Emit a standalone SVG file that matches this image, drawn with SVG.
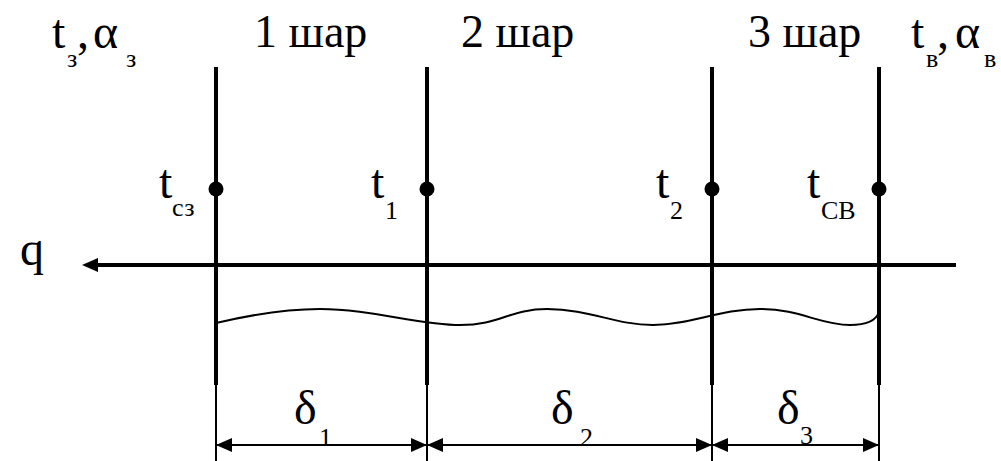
<svg xmlns="http://www.w3.org/2000/svg" width="1001" height="461" viewBox="0 0 1001 461">
<rect width="1001" height="461" fill="#fff"/>
<g id="labels-top" fill="#000">
<text x="52" y="48" font-family="Liberation Serif" style="font-family:'Liberation Serif',serif" font-size="48">t</text>
<text x="67" y="67" font-family="Liberation Serif" style="font-family:'Liberation Serif',serif" font-size="26">з</text>
<text x="77" y="48" font-family="Liberation Serif" style="font-family:'Liberation Serif',serif" font-size="48">,</text>
<text x="93" y="48" font-family="Liberation Serif" style="font-family:'Liberation Serif',serif" font-size="48">α</text>
<text x="126" y="67" font-family="Liberation Serif" style="font-family:'Liberation Serif',serif" font-size="26">з</text>
<text x="254" y="47" font-family="Liberation Serif" style="font-family:'Liberation Serif',serif" font-size="46">1 шар</text>
<text x="461" y="47" font-family="Liberation Serif" style="font-family:'Liberation Serif',serif" font-size="46">2 шар</text>
<text x="748" y="47" font-family="Liberation Serif" style="font-family:'Liberation Serif',serif" font-size="46">3 шар</text>
<text x="911" y="48" font-family="Liberation Serif" style="font-family:'Liberation Serif',serif" font-size="48">t</text>
<text x="926" y="67" font-family="Liberation Serif" style="font-family:'Liberation Serif',serif" font-size="26">в</text>
<text x="937" y="48" font-family="Liberation Serif" style="font-family:'Liberation Serif',serif" font-size="48">,</text>
<text x="955" y="48" font-family="Liberation Serif" style="font-family:'Liberation Serif',serif" font-size="48">α</text>
<text x="984" y="67" font-family="Liberation Serif" style="font-family:'Liberation Serif',serif" font-size="26">в</text>
</g>
<g id="wall0"><line x1="216" y1="67" x2="216" y2="385" stroke="#000" stroke-width="4"/><line x1="216" y1="385" x2="216" y2="461" stroke="#000" stroke-width="2"/><circle cx="216" cy="189" r="7.5"/>
<text x="159" y="198" font-family="Liberation Serif" style="font-family:'Liberation Serif',serif" font-size="48">t</text>
<text x="172" y="216" font-family="Liberation Serif" style="font-family:'Liberation Serif',serif" font-size="26">сз</text></g>
<g id="wall1"><line x1="427" y1="67" x2="427" y2="385" stroke="#000" stroke-width="4"/><line x1="427" y1="385" x2="427" y2="461" stroke="#000" stroke-width="2"/><circle cx="427" cy="189" r="7.5"/>
<text x="371" y="198" font-family="Liberation Serif" style="font-family:'Liberation Serif',serif" font-size="48">t</text>
<text x="385" y="219" font-family="Liberation Serif" style="font-family:'Liberation Serif',serif" font-size="26">1</text></g>
<g id="wall2"><line x1="712" y1="67" x2="712" y2="385" stroke="#000" stroke-width="4"/><line x1="712" y1="385" x2="712" y2="461" stroke="#000" stroke-width="2"/><circle cx="712" cy="189" r="7.5"/>
<text x="656" y="198" font-family="Liberation Serif" style="font-family:'Liberation Serif',serif" font-size="48">t</text>
<text x="670" y="219" font-family="Liberation Serif" style="font-family:'Liberation Serif',serif" font-size="26">2</text></g>
<g id="wall3"><line x1="879" y1="67" x2="879" y2="385" stroke="#000" stroke-width="4"/><line x1="879" y1="385" x2="879" y2="461" stroke="#000" stroke-width="2"/><circle cx="879" cy="189" r="7.5"/>
<text x="807" y="198" font-family="Liberation Serif" style="font-family:'Liberation Serif',serif" font-size="48">t</text>
<text x="821" y="219" font-family="Liberation Serif" style="font-family:'Liberation Serif',serif" font-size="26">СВ</text></g>
<g id="heat-flow">
<text x="20" y="265" font-family="Liberation Serif" style="font-family:'Liberation Serif',serif" font-size="48">q</text>
<line x1="95" y1="265" x2="956" y2="265" stroke="#000" stroke-width="4"/>
<polygon points="82,265 98,258 98,272"/>
</g>
<g id="connectors">
<path d="M216,323 C250,315 285,309 320,309 C370,309 420,325 460,325 C500,325 510,309 547,309 C590,309 615,325 653,325 C690,325 720,309 760,309 C800,309 820,325 850,325 C870,325 877,318 879,312" fill="none" stroke="#000" stroke-width="2"/>
<line x1="216" y1="445" x2="879" y2="445" stroke="#000" stroke-width="2"/>
<polygon points="216,445 232,438 232,452"/>
<polygon points="427,445 411,438 411,452"/>
<polygon points="427,445 443,438 443,452"/>
<polygon points="712,445 696,438 696,452"/>
<polygon points="712,445 728,438 728,452"/>
<polygon points="879,445 863,438 863,452"/>
</g>
<g id="dims">
<text x="294" y="424" font-family="Liberation Serif" style="font-family:'Liberation Serif',serif" font-size="48">δ</text>
<text x="319" y="446" font-family="Liberation Serif" style="font-family:'Liberation Serif',serif" font-size="26">1</text>
<text x="551" y="424" font-family="Liberation Serif" style="font-family:'Liberation Serif',serif" font-size="48">δ</text>
<text x="580" y="446" font-family="Liberation Serif" style="font-family:'Liberation Serif',serif" font-size="26">2</text>
<text x="777" y="424" font-family="Liberation Serif" style="font-family:'Liberation Serif',serif" font-size="48">δ</text>
<text x="800" y="444" font-family="Liberation Serif" style="font-family:'Liberation Serif',serif" font-size="26">3</text>
</g>
</svg>
